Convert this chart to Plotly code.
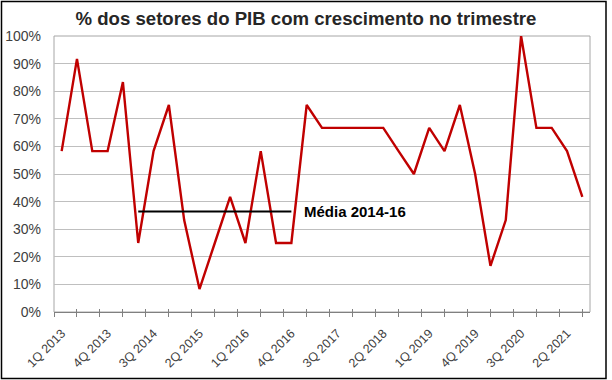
import plotly.graph_objects as go

quarters = [
    "1Q 2013", "2Q 2013", "3Q 2013", "4Q 2013",
    "1Q 2014", "2Q 2014", "3Q 2014", "4Q 2014",
    "1Q 2015", "2Q 2015", "3Q 2015", "4Q 2015",
    "1Q 2016", "2Q 2016", "3Q 2016", "4Q 2016",
    "1Q 2017", "2Q 2017", "3Q 2017", "4Q 2017",
    "1Q 2018", "2Q 2018", "3Q 2018", "4Q 2018",
    "1Q 2019", "2Q 2019", "3Q 2019", "4Q 2019",
    "1Q 2020", "2Q 2020", "3Q 2020", "4Q 2020",
    "1Q 2021", "2Q 2021", "3Q 2021",
]
share_growth = [
    58.3, 91.7, 58.3, 58.3,
    83.3, 25.0, 58.3, 75.0,
    33.3, 8.3, 25.0, 41.7,
    25.0, 58.3, 25.0, 25.0,
    75.0, 66.7, 66.7, 66.7,
    66.7, 66.7, 58.3, 50.0,
    66.7, 58.3, 75.0, 50.0,
    16.7, 33.3, 100.0, 66.7,
    66.7, 58.3, 41.7,
]
media_label = "Média 2014-16"
media_value = 36.4
media_start = "2Q 2014"
media_end = "4Q 2016"
tick_labels = quarters[::3]

idx = list(range(len(quarters)))
FONT = "Liberation Sans, Arial, sans-serif"

fig = go.Figure()
fig.add_trace(go.Scatter(
    x=idx, y=share_growth, mode="lines",
    line=dict(color="#C00000", width=2.4),
    hoverinfo="skip", showlegend=False,
))
i0, i1 = quarters.index(media_start), quarters.index(media_end)
fig.add_trace(go.Scatter(
    x=[i0, i1], y=[media_value, media_value], mode="lines",
    line=dict(color="#000000", width=2),
    hoverinfo="skip", showlegend=False,
))
fig.add_annotation(
    x=i1 + 0.7, y=media_value, text=f"<b>{media_label}</b>",
    showarrow=False, xanchor="left", yanchor="middle",
    font=dict(family=FONT, size=15, color="#000000"),
)

fig.update_layout(
    width=612, height=380,
    margin=dict(l=54, r=22, t=36, b=68),
    paper_bgcolor="white", plot_bgcolor="white",
    title=dict(
        text="<b>% dos setores do PIB com crescimento no trimestre</b>",
        x=306 / 612, xanchor="center", y=1 - 18 / 380, yanchor="middle",
        font=dict(family=FONT, size=18.6, color="#262626"),
    ),
    xaxis=dict(
        range=[-0.5, len(quarters) - 0.5], automargin=False,
        tickvals=idx[::3], ticktext=tick_labels,
        tickangle=-45, ticks="",
        tickfont=dict(family=FONT, size=12.5, color="#404040"),
        ticklabelstandoff=8,
        showgrid=False, zeroline=False,
        showline=True, linecolor="#808080", linewidth=1.3, mirror=False,
        minor=dict(tick0=-0.5, dtick=1.5, ticks="outside", ticklen=4,
                   tickcolor="#808080", tickwidth=1, showgrid=False),
    ),
    xaxis2=dict(
        overlaying="x", matches="x", side="bottom", automargin=False,
        anchor="y", showticklabels=False,
        tick0=-0.5, dtick=1.5, ticks="inside", ticklen=3,
        tickcolor="#808080", showgrid=False, zeroline=False, showline=False,
    ),
    yaxis=dict(
        range=[0, 100], dtick=10, ticksuffix="%", automargin=False,
        tickfont=dict(family=FONT, size=14, color="#404040"),
        showgrid=True, gridcolor="#BFBFBF", gridwidth=1,
        zeroline=False, showline=False, ticks="", ticklabelstandoff=12,
    ),
    shapes=[
        dict(type="rect", xref="paper", yref="paper", x0=0, x1=1, y0=0, y1=1,
             line=dict(color="#A6A6A6", width=1), fillcolor="rgba(0,0,0,0)",
             layer="below"),
        dict(type="rect", xref="paper", yref="paper",
             x0=(1.5 - 54) / 536, x1=(606 - 54) / 536,
             y0=(312 - 378.5) / 276, y1=(312 - 1.5) / 276,
             line=dict(color="#000000", width=1.5), fillcolor="rgba(0,0,0,0)"),
    ],
)
fig.add_trace(go.Scatter(x=[None], y=[None], xaxis="x2", showlegend=False,
                         hoverinfo="skip"))

fig.write_html("out.html", config={"displayModeBar": False})

# remove the browser's default 8px body margin so the figure sits at (0, 0)
with open("out.html", encoding="utf-8") as f:
    html = f.read()
html = html.replace("<body>", '<body style="margin:0;padding:0;overflow:hidden">', 1)
with open("out.html", "w", encoding="utf-8") as f:
    f.write(html)
